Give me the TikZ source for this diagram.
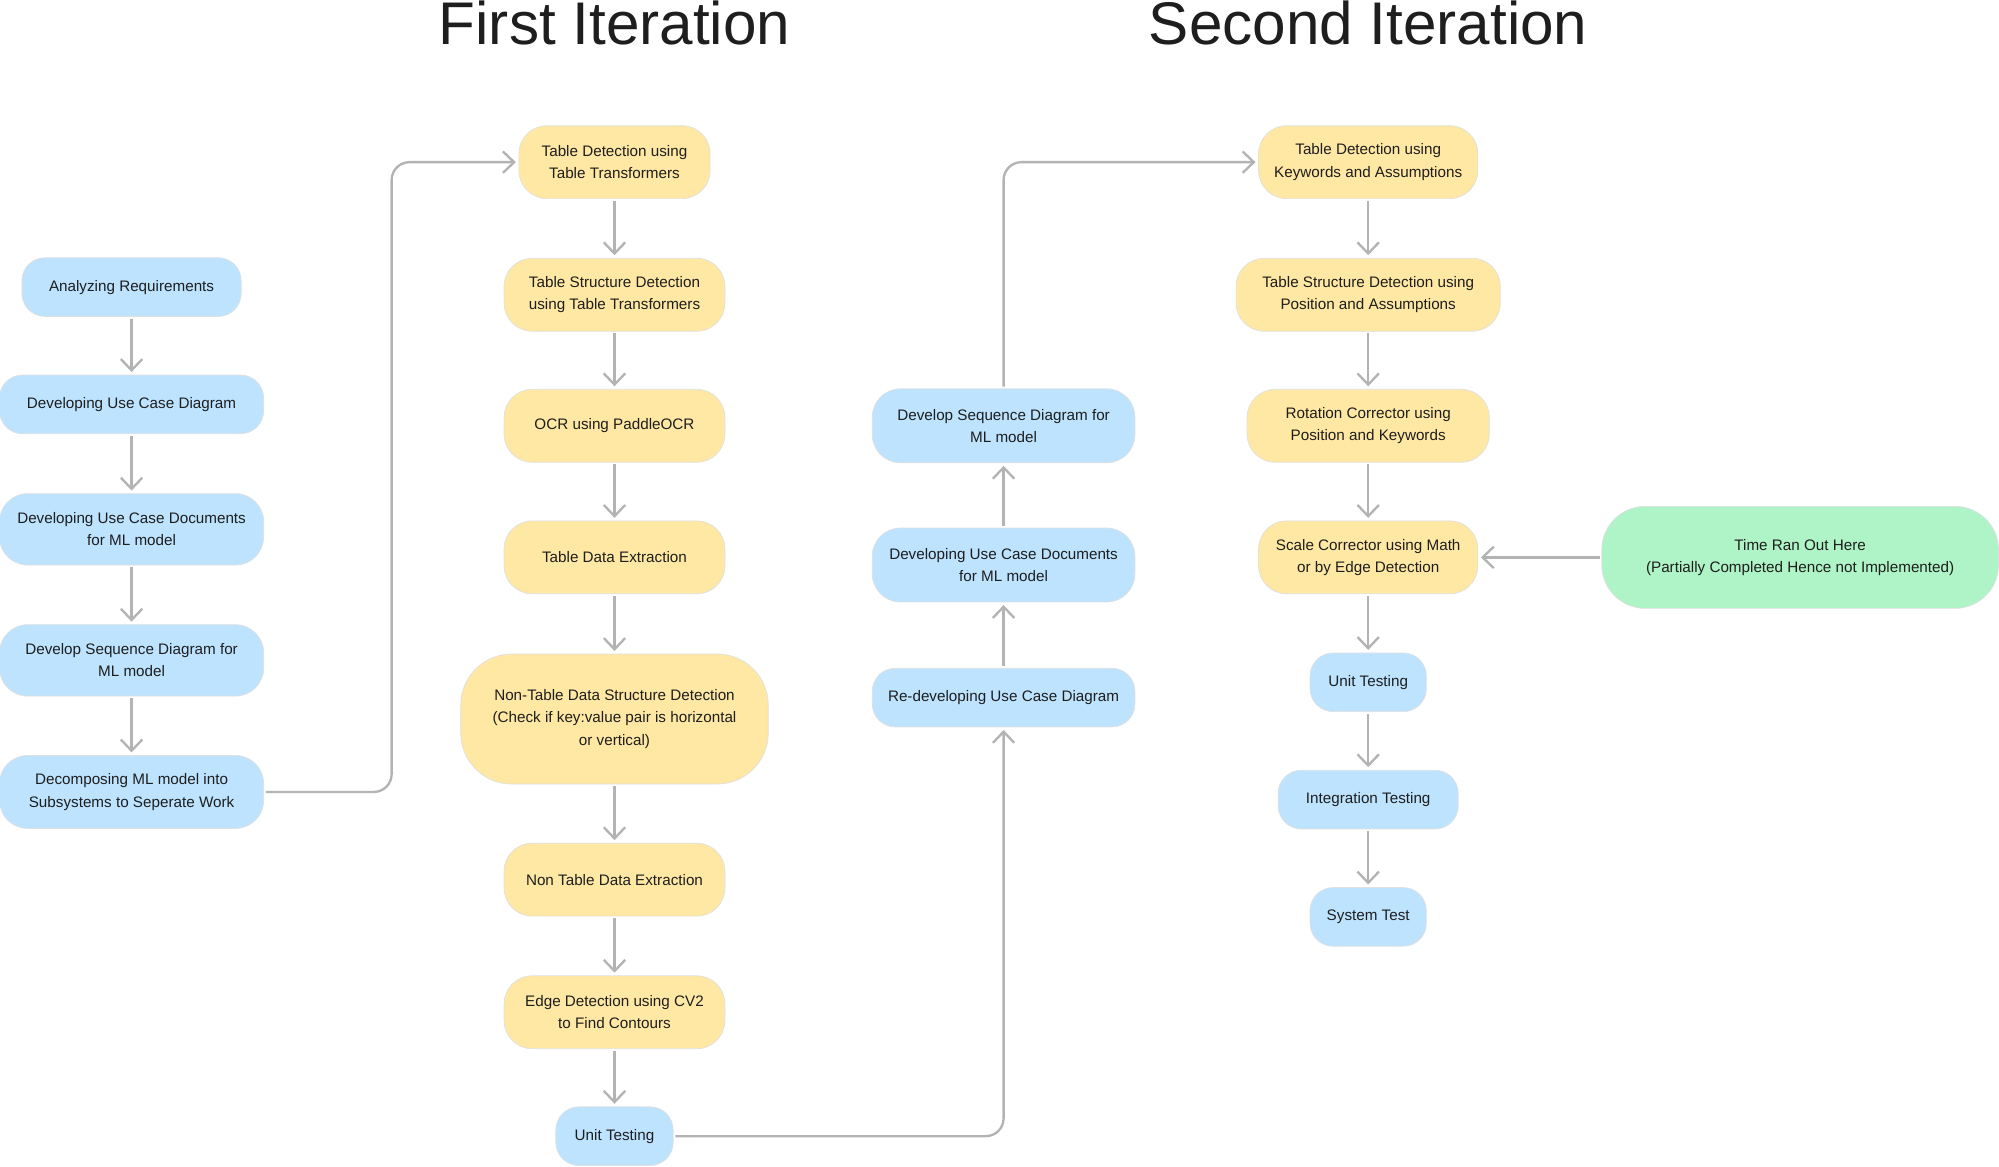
\documentclass[tikz,border=0pt]{standalone}
\usepackage{fontspec}
\setmainfont{Liberation Sans}
\usepackage{xcolor}
\usetikzlibrary{positioning,arrows.meta}
\definecolor{bluebox}{HTML}{BDE3FF}
\definecolor{yellowbox}{HTML}{FFE8A3}
\definecolor{greenbox}{HTML}{AFF4C6}
\definecolor{linegray}{HTML}{B3B3B3}
\definecolor{textgray}{HTML}{1E1E1E}

\begin{document}
\begin{tikzpicture}[
        box/.style={draw=black!12, line width=0.4pt, rounded corners=0.55cm, align=center, text=textgray,
            font=\fontsize{8.5}{12.4}\selectfont, inner sep=0pt, minimum height=1.43cm},
        bluebox/.style={box, fill=bluebox},
        yellowbox/.style={box, fill=yellowbox},
        greenbox/.style={box, fill=greenbox},
        small/.style={minimum height=1.15cm, rounded corners=0.45cm},
        flow/.style={draw=linegray, line width=1.3pt, rounded corners=0.35cm, shorten >=1.5pt, shorten <=1pt,
            -{Straight Barb[length=0.22cm, width=0.42cm]}},
        heading/.style={font=\fontsize{33.6}{40}\selectfont, text=textgray, inner sep=0pt, anchor=base}
    ]
    \useasboundingbox (0,0) rectangle (39.2,-22.875);

    \node[heading] (firsttitle) at (12.05,-0.88) {First Iteration};
    \node[heading] (secondtitle) at (26.83,-0.88) {Second Iteration};

    \node[bluebox, small, minimum width=4.3cm] (req) at (2.58,-5.63) {Analyzing Requirements};
    \node[bluebox, small, minimum width=5.18cm] (ucd) at (2.58,-7.93) {Developing Use Case Diagram};
    \node[bluebox, minimum width=5.18cm, minimum height=1.4cm] (ucdoc) at (2.58,-10.38) {Developing Use Case Documents\\for ML model};
    \node[bluebox, minimum width=5.18cm, minimum height=1.4cm] (seq) at (2.58,-12.95) {Develop Sequence Diagram for\\ML model};
    \node[bluebox, minimum width=5.18cm] (decomp) at (2.58,-15.53) {Decomposing ML model into\\Subsystems to Seperate Work};

    \node[yellowbox, minimum width=3.75cm] (tdA) at (12.05,-3.18) {Table Detection using\\Table Transformers};
    \node[yellowbox, minimum width=4.33cm] (tsdA) at (12.05,-5.78) {Table Structure Detection\\using Table Transformers};
    \node[yellowbox, minimum width=4.33cm] (ocr) at (12.05,-8.35) {OCR using PaddleOCR};
    \node[yellowbox, minimum width=4.33cm] (tde) at (12.05,-10.93) {Table Data Extraction};
    \node[yellowbox, minimum width=6.03cm, minimum height=2.55cm, rounded corners=1cm] (ntsd) at (12.05,-14.1) {Non-Table Data Structure Detection\\(Check if key:value pair is horizontal\\or vertical)};
    \node[yellowbox, minimum width=4.33cm] (ntde) at (12.05,-17.25) {Non Table Data Extraction};
    \node[yellowbox, minimum width=4.33cm] (edge) at (12.05,-19.85) {Edge Detection using CV2\\to Find Contours};
    \node[bluebox, small, minimum width=2.3cm] (unitA) at (12.05,-22.28) {Unit Testing};

    \node[bluebox, minimum width=5.15cm, minimum height=1.45cm] (seqB) at (19.68,-8.35) {Develop Sequence Diagram for\\ML model};
    \node[bluebox, minimum width=5.15cm, minimum height=1.45cm] (ucdocB) at (19.68,-11.08) {Developing Use Case Documents\\for ML model};
    \node[bluebox, small, minimum width=5.15cm] (reucd) at (19.68,-13.68) {Re-developing Use Case Diagram};

    \node[yellowbox, minimum width=4.3cm] (tdB) at (26.83,-3.18) {Table Detection using\\Keywords and Assumptions};
    \node[yellowbox, minimum width=5.18cm] (tsdB) at (26.83,-5.78) {Table Structure Detection using\\Position and Assumptions};
    \node[yellowbox, minimum width=4.75cm] (rot) at (26.83,-8.35) {Rotation Corrector using\\Position and Keywords};
    \node[yellowbox, minimum width=4.3cm] (scale) at (26.83,-10.93) {Scale Corrector using Math\\or by Edge Detection};
    \node[bluebox, small, minimum width=2.28cm] (unitB) at (26.83,-13.38) {Unit Testing};
    \node[bluebox, small, minimum width=3.53cm] (integ) at (26.83,-15.68) {Integration Testing};
    \node[bluebox, small, minimum width=2.28cm] (sys) at (26.83,-17.98) {System Test};

    \node[greenbox, minimum width=7.78cm, minimum height=2cm, rounded corners=0.85cm] (timeout) at (35.3,-10.93) {Time Ran Out Here\\(Partially Completed Hence not Implemented)};

    \coordinate (bendA) at (7.68,0);

    \draw[flow] (req) -- (ucd);
    \draw[flow] (ucd) -- (ucdoc);
    \draw[flow] (ucdoc) -- (seq);
    \draw[flow] (seq) -- (decomp);
    \draw[flow] (decomp.east) -- (decomp.east -| bendA) |- (tdA.west);

    \draw[flow] (tdA) -- (tsdA);
    \draw[flow] (tsdA) -- (ocr);
    \draw[flow] (ocr) -- (tde);
    \draw[flow] (tde) -- (ntsd);
    \draw[flow] (ntsd) -- (ntde);
    \draw[flow] (ntde) -- (edge);
    \draw[flow] (edge) -- (unitA);
    \draw[flow] (unitA.east) -| (reucd.south);

    \draw[flow] (reucd) -- (ucdocB);
    \draw[flow] (ucdocB) -- (seqB);
    \draw[flow] (seqB.north) |- (tdB.west);

    \draw[flow] (tdB) -- (tsdB);
    \draw[flow] (tsdB) -- (rot);
    \draw[flow] (rot) -- (scale);
    \draw[flow] (scale) -- (unitB);
    \draw[flow] (unitB) -- (integ);
    \draw[flow] (integ) -- (sys);
    \draw[flow] (timeout) -- (scale);
\end{tikzpicture}
\end{document}
